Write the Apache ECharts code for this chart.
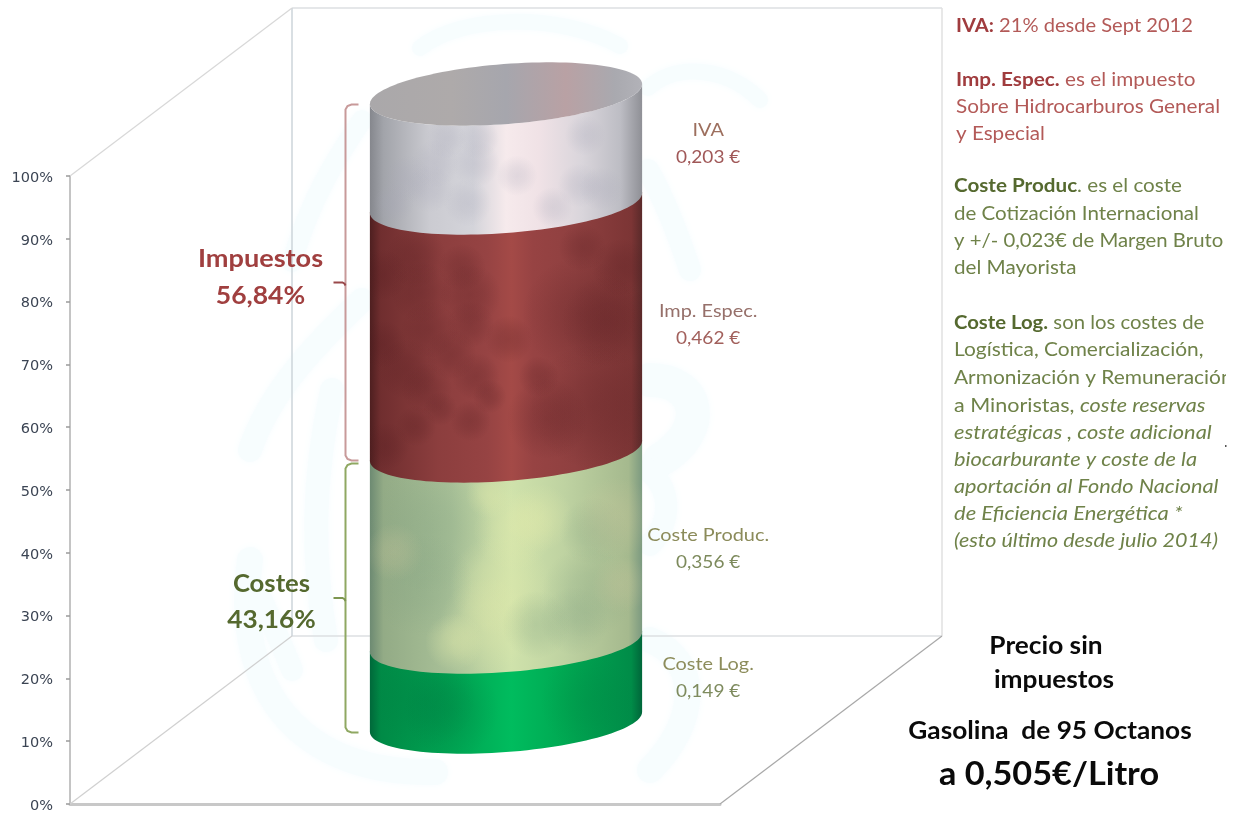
<!DOCTYPE html>
<html>
<head>
<meta charset="utf-8">
<title>Precio sin impuestos - Gasolina de 95 Octanos</title>
<style>html,body{margin:0;padding:0;background:#fff}#chart{width:1241px;height:816px}</style>
<script src="https://cdn.jsdelivr.net/npm/echarts@6/dist/echarts.min.js"></script>
</head>
<body>
<div id="chart"></div>
<script>
// ---- Data ----
const categories = ['Gasolina 95'];
const segmentNames = ['Coste Log.', 'Coste Produc.', 'Imp. Espec.', 'IVA'];
const segmentEuros = [0.149, 0.356, 0.462, 0.203];
const groupNames = ['Costes', 'Impuestos'];
const groupFirstSegment = [0, 2];
const groupLastSegment = [1, 3];
const axisMax = 100;
const axisStep = 10;

const noteLines = [
  [['rb', 'IVA:'], ['r', ' 21% desde Sept 2012']],
  [['rb', 'Imp. Espec.'], ['r', ' es el impuesto']],
  [['r', 'Sobre Hidrocarburos General']],
  [['r', 'y Especial']],
  [['gb', 'Coste Produc'], ['g', '. es el coste']],
  [['g', 'de Cotización Internacional']],
  [['g', 'y +/- 0,023€ de Margen Bruto']],
  [['g', 'del Mayorista']],
  [['gb', 'Coste Log.'], ['g', ' son los costes de']],
  [['g', 'Logística, Comercialización,']],
  [['g', 'Armonización y Remuneración']],
  [['g', 'a Minoristas, '], ['gi', 'coste reservas']],
  [['gi', 'estratégicas , coste adicional']],
  [['gi', 'biocarburante y coste de la']],
  [['gi', 'aportación al Fondo Nacional']],
  [['gi', 'de Eficiencia Energética *']],
  [['gi', '(esto último desde julio 2014)']]
];
const priceLines = ['Precio sin', 'impuestos', 'Gasolina  de 95 Octanos', 'a 0,505€/Litro'];

// ---- Derived values ----
const euroTotal = segmentEuros.reduce((a, b) => a + b, 0);
const percents = segmentEuros.map(v => v / euroTotal * 100);
const stackEdges = percents.reduce((acc, v) => { acc.push(acc[acc.length - 1] + v); return acc; }, [0]);
const euroText = v => v.toFixed(3).replace('.', ',') + ' €';
const pctText = v => v.toFixed(2).replace('.', ',') + '%';

// ---- Styling and layout ----
const FONT = 'Lato, "Open Sans", sans-serif';
const grid = { left: 70, top: 176, width: 650, height: 628 };
const depth = [222, -168];
const centerDepth = [111, -82];
const R_A = 0.21;            // cylinder half-width as a share of the category band
const R_B = 30;
const TILT = Math.asin(10.5 / 136.5);
const WALL = '#dcdfe2';

const segmentGradients = [
  [[0, '#00683a'], [.04, '#008a46'], [.3, '#00a452'], [.52, '#00bc5e'], [.72, '#00a852'], [.96, '#008c48'], [1, '#00663a']],
  [[0, '#6d8a72'], [.05, '#93ab86'], [.3, '#a9c198'], [.52, '#cfe2ab'], [.72, '#bed2a1'], [.95, '#a5b98e'], [1, '#7c9a80']],
  [[0, '#4e1f20'], [.04, '#702e2f'], [.25, '#8c3e3e'], [.43, '#964343'], [.52, '#a44a47'], [.6, '#974343'], [.75, '#8f4040'], [.96, '#7c3535'], [1, '#5a2a2a']],
  [[0, '#85878d'], [.05, '#a2a4aa'], [.22, '#cbcbd1'], [.38, '#d4d4da'], [.5, '#f6eaec'], [.62, '#f0e2e6'], [.78, '#d9d5db'], [.92, '#bdbdc4'], [1, '#8f9096']]
];
const topGradient = [[0, '#aaa8aa'], [.3, '#aeaaaa'], [.5, '#a6a6ad'], [.72, '#b9a1a4'], [.9, '#a9a9af'], [1, '#b2b2b8']];

// Soft mottling on the cylinder skin: fraction across, fraction up from the top edge, radius px, tint
const DARK_RED = 'rgba(78,24,28,0.22)';
const LIGHT_Y = 'rgba(226,234,170,0.42)';
const DARK_G = 'rgba(125,158,128,0.26)';
const WARM = 'rgba(216,205,160,0.24)';
const BLUE_G = 'rgba(165,165,182,0.25)';
const skinSpots = [
  [[.2, .7, 30, 'rgba(0,110,60,0.22)'], [.3, .85, 28, 'rgba(0,110,60,0.22)'], [.8, .75, 28, 'rgba(0,120,60,0.18)']],
  [[.48, .70, 30, LIGHT_Y], [.43, .91, 28, LIGHT_Y], [.53, .41, 24, LIGHT_Y], [.62, .35, 20, LIGHT_Y], [.44, .23, 14, LIGHT_Y], [.31, 1.0, 17, LIGHT_Y],
   [.22, .41, 37, DARK_G], [.19, .70, 30, DARK_G], [.80, .74, 27, DARK_G], [.75, .89, 20, DARK_G], [.82, .42, 20, DARK_G], [.61, .91, 20, DARK_G],
   [.90, .35, 24, WARM], [.09, .53, 17, WARM], [.92, .70, 17, WARM]],
  [[.17, .22, 18, DARK_RED], [.34, .26, 14, DARK_RED], [.05, .29, 15, DARK_RED], [.19, .36, 18, DARK_RED], [.37, .37, 18, DARK_RED], [.22, .51, 17, DARK_RED],
   [.37, .49, 14, DARK_RED], [.30, .61, 15, DARK_RED], [.14, .67, 18, DARK_RED], [.05, .57, 14, DARK_RED], [.21, .75, 15, DARK_RED], [.39, .70, 14, DARK_RED],
   [.44, .78, 10, DARK_RED], [.26, .83, 10, DARK_RED], [.17, .90, 12, DARK_RED], [.37, .88, 12, DARK_RED], [.06, .98, 14, DARK_RED], [.51, .55, 14, DARK_RED],
   [.78, .18, 14, DARK_RED], [.92, .26, 17, DARK_RED], [.77, .45, 34, DARK_RED], [.87, .48, 27, DARK_RED], [.82, .82, 37, DARK_RED], [.65, .87, 24, DARK_RED], [.62, .70, 12, DARK_RED]],
  [[.14, .78, 14, BLUE_G], [.22, .87, 14, BLUE_G], [.36, 1.0, 14, BLUE_G], [.39, .64, 14, BLUE_G], [.24, .64, 14, BLUE_G], [.28, .41, 12, BLUE_G], [.40, .41, 12, BLUE_G],
   [.09, 1.0, 12, BLUE_G], [.67, 1.04, 12, BLUE_G], [.77, .84, 13, BLUE_G], [.85, .87, 13, BLUE_G], [.79, .38, 12, BLUE_G], [.54, .75, 12, BLUE_G]]
];

const segmentLabelColors = [
  ['#8d8d5c', '#7e8b5e'], ['#8b8b5a', '#7d8a5c'], ['#96706a', '#a2605c'], ['#9d6f5e', '#a05858']
];
const labelNudge = [-4, 3, -2, -4];
const NAME_STRETCH = 1.17;
const VALUE_STRETCH = 1.12;
const groupColors = ['#55692f', '#a03f3f'];
const braceColors = ['#8fa862', '#c89a9a'];
const tipColors = ['#7d9650', '#99484a'];
const groupTextX = [-74, -85];
const groupTextY = [[-14, 22], [-23, 13]];
const groupNameStretch = [1.07, 1.13];
const groupPctStretch = [1.05, 1.06];

// ---- Cylinder geometry ----
function ellipsePoint(c, a, t) {
  return [
    c[0] + a * Math.cos(t) * Math.cos(TILT) + R_B * Math.sin(t) * Math.sin(TILT),
    c[1] - a * Math.cos(t) * Math.sin(TILT) + R_B * Math.sin(t) * Math.cos(TILT)
  ];
}
function frontArc(c, a) {
  const t0 = Math.atan(R_B * Math.sin(TILT) / (a * Math.cos(TILT)));
  const pts = [];
  for (let i = 0; i <= 60; i++) pts.push(ellipsePoint(c, a, t0 + Math.PI * i / 60));
  return pts;
}
function fullEllipse(c, a) {
  const pts = [];
  for (let i = 0; i < 120; i++) pts.push(ellipsePoint(c, a, 2 * Math.PI * i / 120));
  return pts;
}
const grad = stops => new echarts.graphic.LinearGradient(0, 0, 1, 0, stops.map(s => ({ offset: s[0], color: s[1] })));
const softSpot = color => new echarts.graphic.RadialGradient(.5, .5, .5, [
  { offset: 0, color: color }, { offset: .4, color: color.replace(/[\d.]+\)$/, m => String(parseFloat(m) * .75) + ')') }, { offset: 1, color: color.replace(/[\d.]+\)$/, '0)') }
]);

function cylinderCenter(api, pct) {
  const p = api.coord([0, pct]);
  return [p[0] + centerDepth[0], p[1] + centerDepth[1]];
}

function renderSegment(params, api) {
  const i = api.value(0);
  const v0 = api.value(1), v1 = api.value(2);
  const band = api.size([1, 0])[0];
  const a = band * R_A;
  const c0 = cylinderCenter(api, v0), c1 = cylinderCenter(api, v1);
  const last = i === segmentEuros.length - 1;
  const lift = last ? 0 : 1.5;
  const lower = frontArc(c0, a);
  const upper = frontArc([c1[0], c1[1] - lift], a).reverse();
  const outline = lower.concat(upper);
  const left = c0[0] - a, width = 2 * a;
  const top = Math.min(c1[1], c0[1]);
  const span = Math.abs(c0[1] - c1[1]);
  const children = [{
    type: 'polygon',
    shape: { points: outline },
    style: { fill: grad(segmentGradients[i]) }
  }];
  children.push({
    type: 'group',
    clipPath: { type: 'polygon', shape: { points: outline } },
    children: skinSpots[i].map(s => ({
      type: 'circle',
      shape: { cx: left + s[0] * width, cy: top + s[1] * span, r: s[2] * 1.7 },
      style: { fill: softSpot(s[3]) }
    }))
  });
  if (last) {
    children.push({
      type: 'polygon',
      shape: { points: fullEllipse(c1, a) },
      style: { fill: grad(topGradient) }
    });
  }
  // value label beside the segment
  const lx = c0[0] + band * 0.311;
  const ly = (c0[1] + c1[1]) / 2 + labelNudge[i];
  children.push({
    type: 'text', x: lx, y: ly - 13.5, scaleX: NAME_STRETCH,
    style: { text: segmentNames[i], font: '17px ' + FONT, fill: segmentLabelColors[i][0], align: 'center', verticalAlign: 'middle' }
  }, {
    type: 'text', x: lx, y: ly + 13.5, scaleX: VALUE_STRETCH,
    style: { text: euroText(segmentEuros[i]), font: '17px ' + FONT, fill: segmentLabelColors[i][1], align: 'center', verticalAlign: 'middle' }
  });
  return { type: 'group', children };
}

function renderFrame(params, api) {
  const f0 = api.coord([0, 0]);
  const f100 = api.coord([0, axisMax]);
  const band = api.size([1, 0])[0];
  const x0 = f0[0] - band / 2, x1 = f0[0] + band / 2;
  const yB = f0[1], yT = f100[1];
  const dx = depth[0], dy = depth[1];
  const seg = (x1_, y1_, x2_, y2_, color, w) => ({
    type: 'line',
    shape: { x1: x1_, y1: y1_, x2: x2_, y2: y2_ },
    style: { stroke: color, lineWidth: w || 1.5 }
  });
  return {
    type: 'group',
    children: [
      seg(x0 + dx, yB + dy, x1 + dx, yB + dy, WALL),
      seg(x0 + dx, yT + dy, x1 + dx, yT + dy, WALL),
      seg(x0 + dx, yT + dy, x0 + dx, yB + dy, '#cdd5da'),
      seg(x1 + dx, yT + dy, x1 + dx, yB + dy, '#e0e0e0'),
      seg(x0, yT, x0 + dx, yT + dy, '#d8d8d8', 1.2),
      seg(x0, yB, x0 + dx, yB + dy, '#d0d0d0', 1.2),
      seg(x1, yB, x1 + dx, yB + dy, '#a8a8a8', 1.2)
    ]
  };
}

function renderBrace(params, api) {
  const g = api.value(0);
  const band = api.size([1, 0])[0];
  const a = band * R_A;
  const cLow = cylinderCenter(api, api.value(1));
  const cHigh = cylinderCenter(api, api.value(2));
  const cAxis = cLow[0];
  const rise = a * Math.sin(TILT);
  const yLow = cLow[1] + rise - (g === 1 ? 1 : 0);
  const yHigh = cHigh[1] + rise + (g === 0 ? 2 : 0);
  const xBar = cAxis - a - 24;
  const yMid = (yLow + yHigh) / 2;
  const hook = 13;
  const bar = [
    [xBar + hook, yHigh], [xBar + 6, yHigh], [xBar + 2, yHigh + 1.5], [xBar, yHigh + 5],
    [xBar, yLow - 5], [xBar + 2, yLow - 1.5], [xBar + 6, yLow], [xBar + hook, yLow]
  ];
  const tip = [[xBar - 12, yMid], [xBar - 3, yMid], [xBar - 1, yMid + 1.2], [xBar, yMid + 3]];
  const tx = xBar + groupTextX[g];
  return {
    type: 'group',
    children: [
      { type: 'polyline', shape: { points: bar }, style: { stroke: braceColors[g], lineWidth: 2, fill: null } },
      { type: 'polyline', shape: { points: tip }, style: { stroke: tipColors[g], lineWidth: 2, fill: null } },
      { type: 'text', x: tx, y: yMid + groupTextY[g][0], scaleX: groupNameStretch[g],
        style: { text: groupNames[g], font: 'bold 24px ' + FONT, fill: groupColors[g], align: 'center', verticalAlign: 'middle' } },
      { type: 'text', x: tx, y: yMid + groupTextY[g][1], scaleX: groupPctStretch[g],
        style: { text: pctText(api.value(2) - api.value(1)), font: 'bold 25px ' + FONT, fill: groupColors[g], align: 'center', verticalAlign: 'middle' } }
    ]
  };
}

// ---- Pale background emblem ----
const EMBLEM = '#f7fdfe';
const emblemCurves = [
  [250, 560, 232, 690, 300, 775, 435, 772, 26],
  [332, 390, 312, 480, 312, 560, 326, 640, 24],
  [250, 450, 270, 390, 320, 340, 362, 300, 24],
  [292, 262, 310, 200, 335, 160, 362, 120, 20],
  [420, 48, 460, 15, 560, 12, 620, 46, 16],
  [648, 88, 680, 60, 730, 70, 760, 100, 16],
  [648, 170, 665, 200, 680, 240, 690, 270, 22],
  [650, 380, 700, 380, 710, 430, 660, 460, 34],
  [648, 470, 672, 490, 672, 520, 650, 545, 22],
  [650, 640, 700, 660, 700, 720, 650, 770, 26],
  [262, 600, 270, 620, 280, 640, 292, 670, 22]
];

// ---- Text blocks ----
const noteY = [26, 80, 107, 134, 186, 214, 241, 268, 323, 350, 378, 406, 433, 460, 487, 514, 541];
const noteX = [956, 956, 956, 956, 954, 954, 954, 954, 954, 954, 954, 954, 954, 954, 954, 954, 954];
const noteStretch = [1.087, 1.12, 1.12, 1.115, 1.115, 1.11, 1.098, 1.115, 1.097, 1.13, 1.13, 1.165, 1.18, 1.178, 1.173, 1.19, 1.163];
const NOTE_SIZE = 18.5;
const noteRich = {
  r: { fontFamily: 'Lato', fontSize: NOTE_SIZE, fill: '#b35a58' },
  rb: { fontFamily: 'Lato', fontSize: NOTE_SIZE, fontWeight: 'bold', fill: '#a03c3e' },
  g: { fontFamily: 'Lato', fontSize: NOTE_SIZE, fill: '#6f8249' },
  gb: { fontFamily: 'Lato', fontSize: NOTE_SIZE, fontWeight: 'bold', fill: '#55692f' },
  gi: { fontFamily: 'Lato', fontSize: NOTE_SIZE, fontStyle: 'italic', fill: '#6f8249' }
};
const priceX = [1046, 1054, 1050, 1049];
const priceY = [646, 680, 731, 775];
const priceFont = ['bold 25px ', 'bold 25px ', 'bold 25px ', 'bold 32px '];
const priceStretch = [1.05, 1.05, 1.05, 1.07];

const graphicElements = [];
emblemCurves.forEach(c => graphicElements.push({
  type: 'bezierCurve', z: 0, silent: true,
  shape: { x1: c[0], y1: c[1], cpx1: c[2], cpy1: c[3], cpx2: c[4], cpy2: c[5], x2: c[6], y2: c[7] },
  style: { stroke: EMBLEM, lineWidth: c[8], fill: null, lineCap: 'round', shadowBlur: 8, shadowColor: EMBLEM }
}));
noteLines.forEach((parts, i) => graphicElements.push({
  type: 'text', z: 5, x: noteX[i], y: noteY[i], scaleX: noteStretch[i],
  style: {
    text: parts.map(p => '{' + p[0] + '|' + p[1] + '}').join(''),
    rich: noteRich, verticalAlign: 'middle', align: 'left'
  }
}));
// the notes column is cut off at the right margin
graphicElements.push({ type: 'rect', z: 6, shape: { x: 1226, y: 360, width: 15, height: 36 }, style: { fill: '#fff' } });
graphicElements.push({ type: 'rect', z: 6, shape: { x: 1225, y: 445, width: 1.5, height: 2 }, style: { fill: '#555' } });
priceLines.forEach((t, i) => graphicElements.push({
  type: 'text', z: 5, x: priceX[i], y: priceY[i], scaleX: priceStretch[i],
  style: { text: t, font: priceFont[i] + FONT, fill: '#0a0a0a', align: 'center', verticalAlign: 'middle' }
}));

// ---- Chart ----
const chart = echarts.init(document.getElementById('chart'), null, { renderer: 'canvas' });
chart.setOption({
  animation: false,
  backgroundColor: '#fff',
  grid: grid,
  graphic: { elements: graphicElements },
  xAxis: {
    type: 'category',
    data: categories,
    axisLine: { lineStyle: { color: '#c8c8c8', width: 3 } },
    axisTick: { show: false },
    axisLabel: { show: false },
    splitLine: { show: false }
  },
  yAxis: {
    type: 'value', min: 0, max: axisMax, interval: axisStep,
    axisLine: { show: true, lineStyle: { color: '#c4c4c4', width: 2 } },
    axisTick: { show: true, length: 4, lineStyle: { color: '#9a9a9a', width: 1.5 } },
    axisLabel: { margin: 17, color: '#3b4453', fontFamily: 'DejaVu Sans', fontSize: 14.5, verticalAlign: 'top', lineHeight: 4, formatter: '{value}%' },
    splitLine: { show: false }
  },
  series: [
    { type: 'custom', name: 'frame', z: 1, silent: true, renderItem: renderFrame, data: [[0]] },
    {
      type: 'custom', name: 'segments', z: 2, silent: true, renderItem: renderSegment,
      encode: { x: 3, y: [1, 2] },
      data: segmentEuros.map((v, i) => [i, stackEdges[i], stackEdges[i + 1], 0])
    },
    {
      type: 'custom', name: 'groups', z: 3, silent: true, renderItem: renderBrace,
      encode: { x: 3, y: [1, 2] },
      data: groupNames.map((n, g) => [g, stackEdges[groupFirstSegment[g]], stackEdges[groupLastSegment[g] + 1], 0])
    }
  ]
});
</script>
</body>
</html>
